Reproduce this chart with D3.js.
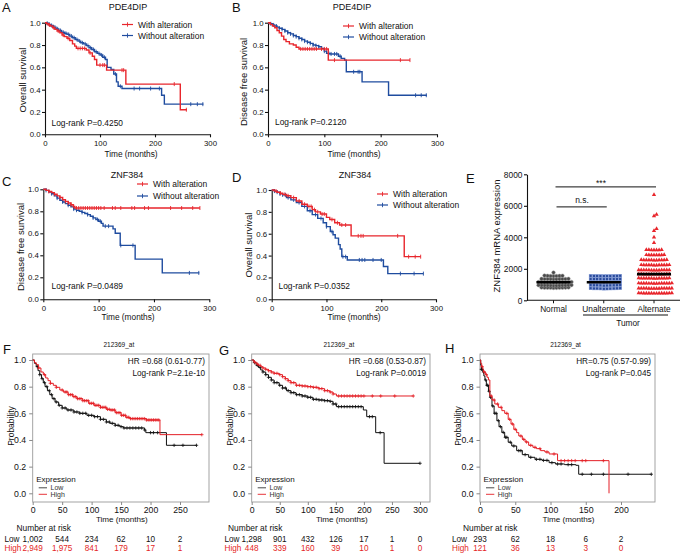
<!DOCTYPE html>
<html><head><meta charset="utf-8">
<script src="https://cdn.jsdelivr.net/npm/d3@7"></script>
<style>body{margin:0;background:#fff}svg{display:block}</style>
</head><body><script>
// ---------------- DATA ----------------
const timeTicks = [0, 100, 200, 300];
const survTicks = [0, 0.2, 0.4, 0.6, 0.8, 1.0];
const legendLabels = ["With alteration", "Without alteration"];

// Panel A: PDE4DIP overall survival  [time, survival]
const aWith = [[0,1],[3,0.99],[6,0.98],[10,0.97],[14,0.955],[18,0.94],[22,0.925],[27,0.91],[31,0.89],[35,0.875],[40,0.86],[45,0.84],[50,0.81],[54,0.79],[57,0.77],[75,0.755],[80,0.73],[86,0.70],[90,0.67],[94,0.62],[112,0.575],[147,0.45],[246,0.22],[258,0.22]];
const aWithCens = [8,16,24,33,42,60,64,68,72,82,100,105,108,140,143,235,257];
const aWithout = [[0,1],[3,0.995],[6,0.985],[10,0.975],[15,0.96],[20,0.945],[25,0.93],[30,0.915],[35,0.905],[40,0.895],[45,0.88],[50,0.865],[55,0.85],[60,0.835],[65,0.82],[70,0.81],[75,0.795],[80,0.775],[85,0.76],[90,0.74],[95,0.725],[100,0.71],[105,0.69],[110,0.67],[113,0.60],[120,0.58],[125,0.54],[130,0.47],[133,0.43],[140,0.41],[212,0.35],[217,0.27],[288,0.27]];
const aWithoutCens = [4,8,12,18,23,28,33,38,43,48,53,58,63,68,73,78,83,88,93,98,103,108,128,137,162,172,192,208,265,277,287];

// Panel B: PDE4DIP disease free survival
const bWith = [[0,1],[4,0.985],[8,0.97],[12,0.955],[16,0.93],[20,0.91],[24,0.88],[28,0.85],[32,0.83],[38,0.81],[45,0.80],[50,0.78],[55,0.765],[107,0.665],[252,0.665]];
const bWithCens = [58,62,66,70,74,78,82,86,95,100,104,118,235,252];
const bWithout = [[0,1],[4,0.99],[8,0.98],[12,0.97],[16,0.96],[20,0.95],[25,0.94],[30,0.925],[35,0.91],[40,0.90],[45,0.885],[50,0.875],[55,0.86],[60,0.85],[65,0.835],[70,0.825],[75,0.815],[80,0.80],[85,0.795],[90,0.785],[95,0.77],[100,0.745],[104,0.725],[110,0.72],[125,0.70],[130,0.68],[136,0.665],[139,0.56],[167,0.47],[214,0.35],[282,0.35]];
const bWithoutCens = [5,10,15,20,25,30,35,40,45,50,55,60,65,70,75,80,85,90,95,100,108,112,118,122,128,152,160,163,262,272,281];

// Panel C: ZNF384 disease free survival
const cWith = [[0,1],[5,0.99],[10,0.98],[15,0.97],[20,0.955],[25,0.94],[30,0.925],[35,0.905],[40,0.89],[45,0.875],[50,0.86],[54,0.845],[57,0.83],[283,0.83]];
const cWithCens = [10,20,30,40,45,50,55,60,64,68,72,76,80,84,88,92,96,100,104,110,125,130,140,160,165,183,190,230,250,270,283];
const cWithout = [[0,1],[5,0.99],[10,0.975],[15,0.96],[20,0.94],[25,0.92],[30,0.90],[35,0.885],[40,0.87],[45,0.855],[50,0.84],[55,0.82],[60,0.81],[65,0.80],[70,0.79],[75,0.78],[80,0.77],[85,0.755],[90,0.74],[95,0.725],[100,0.71],[105,0.69],[108,0.665],[126,0.64],[130,0.60],[139,0.49],[166,0.365],[215,0.24],[282,0.24]];
const cWithoutCens = [5,15,25,35,45,55,60,70,80,90,98,103,112,118,140,162,264,281];

// Panel D: ZNF384 overall survival
const dWith = [[0,1],[5,0.99],[10,0.98],[15,0.97],[20,0.96],[27,0.947],[35,0.93],[45,0.90],[55,0.87],[65,0.85],[74,0.82],[80,0.80],[89,0.78],[100,0.75],[106,0.73],[115,0.70],[124,0.68],[145,0.58],[242,0.39],[272,0.39]];
const dWithCens = [8,16,24,30,40,50,60,68,72,78,84,92,96,110,120,128,135,158,163,167,230,250,262,272];
const dWithout = [[0,1],[5,0.99],[10,0.98],[15,0.965],[20,0.955],[27,0.93],[35,0.91],[45,0.885],[55,0.85],[65,0.81],[74,0.775],[84,0.74],[94,0.70],[100,0.665],[107,0.62],[112,0.59],[116,0.56],[122,0.50],[125,0.46],[128,0.39],[138,0.36],[204,0.30],[212,0.235],[277,0.235]];
const dWithoutCens = [5,10,15,20,25,30,40,50,60,70,80,90,100,110,130,135,160,165,170,185,200,235,260,277];

// Panel E: ZNF384 mRNA expression
const eGroups = ["Normal", "Unalternate", "Alternate"];
const eTicks = [0, 2000, 4000, 6000, 8000];
const eNormal = [1560,1540,1550,1570,1545,1555,1535,1760,
  1350,1340,1360,1355,1345,1350,1365,1335,1350,1345,
  1150,1140,1160,1155,1145,1150,1165,1135,1150,1145,1150,1160,
  950,940,960,955,945,950,965,935,950,945,950,960,
  800,790,810,805,795,800,815,785,800,795];
const eUnalt = [1550,1540,1560,1555,1545,1550,1565,1535,1550,1545,
  1350,1340,1360,1355,1345,1350,1365,1335,1350,1345,
  1150,1140,1160,1155,1145,1150,1165,1135,1150,1145,
  950,940,960,955,945,950,965,935,950,945,
  750,740,760,755,745,750,765,735,750,745];
const eAlt = [6700,5450,5350,4550,4420,4000,3650,
  3210,3200,3190,3205,3195,3200,3210,
  2880,2870,2890,2880,2875,2885,2880,2870,
  2560,2550,2570,2560,2555,2565,2560,2550,2570,2560,2555,
  2240,2230,2250,2240,2235,2245,2240,2230,2250,2240,2235,2245,
  1920,1910,1930,1920,1915,1925,1920,1910,1930,1920,1915,1925,1920,
  1660,1650,1670,1660,1655,1665,1660,1650,1670,1660,1655,1665,1660,
  1400,1390,1410,1400,1395,1405,1400,1390,1410,1400,1395,1405,1400,
  1080,1070,1090,1080,1075,1085,1080,1070,1090,1080,1075,1085,1080,1075,
  760,750,770,760,755,765,760,750,770,760,755,765,760,755,
  450,440,460,450,445,455,450,440,460,450,445,455,450,445];

// Panels F-H: KM plotter, [time, probability]
const fLow = [[0,1],[3,0.975],[6,0.95],[9,0.92],[12,0.89],[15,0.86],[18,0.83],[21,0.80],[25,0.77],[29,0.74],[33,0.71],[38,0.685],[44,0.66],[50,0.64],[58,0.625],[70,0.61],[80,0.60],[92,0.585],[104,0.575],[115,0.555],[125,0.535],[131,0.525],[140,0.51],[148,0.50],[154,0.49],[190,0.475],[192,0.455],[227,0.36],[278,0.36]];
const fLowCens = [8,12,16,20,24,28,32,36,40,45,50,55,60,65,70,75,80,85,90,95,100,105,110,115,120,125,130,135,140,145,150,155,160,165,170,175,180,185,190,200,205,212,240,255,278];
const fHigh = [[0,1],[3,0.98],[6,0.965],[10,0.94],[14,0.91],[18,0.89],[22,0.865],[26,0.845],[30,0.825],[35,0.81],[40,0.795],[46,0.775],[52,0.76],[60,0.74],[68,0.725],[75,0.71],[85,0.695],[95,0.675],[104,0.66],[115,0.645],[125,0.63],[131,0.625],[140,0.605],[150,0.585],[158,0.57],[165,0.56],[193,0.55],[216,0.44],[287,0.44]];
const fHighCens = [10,20,30,40,50,55,58,61,64,67,70,73,76,79,82,85,88,91,94,97,100,103,106,109,112,115,118,121,124,127,130,133,136,139,142,145,148,151,154,157,160,163,166,169,172,175,178,181,184,187,190,193,196,199,202,205,208,211,214,287];
const fTicks = [0, 50, 100, 150, 200, 250];
const fRiskLow = ["1,002","544","234","62","10","2"];
const fRiskHigh = ["2,949","1,975","841","179","17","1"];

const gLow = [[0,1],[4,0.98],[8,0.96],[12,0.945],[16,0.925],[20,0.91],[25,0.89],[30,0.87],[35,0.85],[40,0.83],[49,0.81],[55,0.79],[62,0.77],[70,0.755],[79,0.74],[90,0.73],[100,0.72],[109,0.705],[120,0.70],[130,0.695],[139,0.69],[145,0.67],[151,0.65],[199,0.625],[205,0.575],[221,0.455],[236,0.225],[300,0.225]];
const gLowCens = [5,10,15,20,25,30,35,40,45,50,55,60,65,70,75,80,85,90,95,100,105,110,115,120,125,130,135,140,145,150,155,160,165,170,175,180,185,190,195,210,215,229,300];
const gHigh = [[0,1],[4,0.985],[8,0.97],[12,0.96],[16,0.95],[20,0.94],[25,0.93],[30,0.92],[35,0.91],[40,0.90],[49,0.89],[55,0.875],[60,0.86],[65,0.845],[70,0.83],[79,0.81],[90,0.805],[100,0.80],[109,0.795],[120,0.785],[130,0.77],[139,0.76],[145,0.745],[151,0.73],[288,0.73]];
const gHighCens = [5,10,15,20,25,30,35,40,45,50,55,60,65,70,75,80,85,90,95,100,105,110,115,120,125,130,135,140,145,155,160,165,170,175,180,185,190,195,200,215,230,255,288];
const gTicks = [0, 50, 100, 150, 200, 250, 300];
const gRiskLow = ["1,298","901","432","126","17","1","0"];
const gRiskHigh = ["448","339","160","39","10","1","0"];

const hLow = [[0,1],[1,0.96],[2,0.93],[4,0.91],[5.5,0.88],[7,0.85],[9,0.81],[12,0.765],[14,0.72],[17,0.655],[20,0.60],[24,0.545],[27,0.50],[31,0.457],[35,0.42],[40,0.383],[45,0.355],[52,0.32],[60,0.29],[69,0.27],[78,0.255],[88,0.247],[98,0.23],[107,0.22],[120,0.215],[136,0.21],[140,0.143],[243,0.143]];
const hLowCens = [2,3,5,8,10,11,13,15,18,21,23,26,29,33,36,38,43,48,55,58,64,72,80,85,90,95,102,110,115,125,130,145,158,175,210,243];
const hHigh = [[0,1],[1,0.975],[2.4,0.95],[4,0.93],[5,0.91],[8,0.89],[10,0.87],[12,0.85],[14,0.73],[17,0.70],[21,0.67],[26,0.645],[31,0.62],[35,0.60],[40,0.555],[44,0.52],[48,0.48],[52,0.455],[55,0.43],[60,0.405],[64,0.385],[69,0.36],[75,0.345],[80,0.335],[86,0.32],[92,0.31],[98,0.295],[110,0.245],[183,0]];
const hHighCens = [3,6,9,16,20,25,30,38,42,46,50,58,62,66,72,78,85,95,105,115,120,125,130,135,145,150,175];
const hTicks = [0, 50, 100, 150, 200];
const hRiskLow = ["293","62","18","6","2"];
const hRiskHigh = ["121","36","13","3","0"];

// ---------------- DRAWING ----------------
const FONT = '"Liberation Sans", Arial, Helvetica, sans-serif';
const RED = "#e8262c", BLUE = "#1f4c9f", KRED = "#e41f26", INK = "#111";
const svg = d3.select("body").append("svg").attr("width", 682).attr("height", 554)
  .style("font-family", FONT);

function txt(x, y, s, size, o = {}) {
  const t = svg.append("text").attr("x", x).attr("y", y).text(s)
    .attr("font-size", size).attr("fill", o.fill || INK).attr("font-family", FONT);
  if (o.anchor) t.attr("text-anchor", o.anchor);
  if (o.rot) t.attr("transform", `rotate(-90,${x},${y})`).attr("dy", "0.35em").attr("text-anchor", "middle");
  return t;
}
function survAt(data, t) {
  let s = data[0][1];
  for (const d of data) { if (d[0] <= t) s = d[1]; else break; }
  return s;
}
function styleAxis(a, size, col) {
  a.attr("font-family", FONT);
  a.selectAll("text").attr("font-size", size).attr("fill", INK);
  a.selectAll("path,line").attr("stroke", col);
}

function kmTop(c) {
  const x = d3.scaleLinear().domain([0, 300]).range([c.x0, c.x1]);
  const y = d3.scaleLinear().domain([0, 1]).range([c.yBot, c.yTop]);
  const ax = svg.append("g").attr("transform", `translate(0,${c.yBot})`)
    .call(d3.axisBottom(x).tickValues(timeTicks).tickSize(3).tickSizeOuter(0).tickPadding(3.5));
  const ay = svg.append("g").attr("transform", `translate(${c.x0},0)`)
    .call(d3.axisLeft(y).tickValues(survTicks).tickFormat(d3.format(".1f")).tickSize(3).tickSizeOuter(0).tickPadding(1.5));
  [ax, ay].forEach(a => { styleAxis(a, 7.8, INK); a.selectAll("path,line").attr("stroke-width", 1.1); });

  const line = d3.line().x(d => x(d[0])).y(d => y(d[1])).curve(d3.curveStepAfter);
  c.curves.forEach(cv => {
    svg.append("path").attr("d", line(cv.d)).attr("fill", "none")
      .attr("stroke", cv.color).attr("stroke-width", 1.4);
    svg.append("g").selectAll("line").data(cv.cens).join("line")
      .attr("x1", t => x(t)).attr("x2", t => x(t))
      .attr("y1", t => y(survAt(cv.d, t)) - 2).attr("y2", t => y(survAt(cv.d, t)) + 2)
      .attr("stroke", cv.color).attr("stroke-width", 0.9);
  });
  // legend
  [[RED, c.ly1, legendLabels[0]], [BLUE, c.ly2, legendLabels[1]]].forEach(([col, ly, lab]) => {
    svg.append("line").attr("x1", c.lx).attr("x2", c.lx + 11).attr("y1", ly).attr("y2", ly)
      .attr("stroke", col).attr("stroke-width", 1.2);
    svg.append("line").attr("x1", c.lx + 5.5).attr("x2", c.lx + 5.5).attr("y1", ly - 2.2).attr("y2", ly + 2.2)
      .attr("stroke", col).attr("stroke-width", 0.9);
    txt(c.lx + 16, ly + 3.2, lab, 8.5);
  });
  txt(c.letter[0], c.letter[1], c.letter[2], 13);
  txt(c.title[0], c.title[1], c.title[2], 9, { anchor: "middle" });
  txt(c.ylab[0], c.ylab[1], c.ylab[2], 9.5, { rot: true });
  txt(c.tlab[0], c.tlab[1], "Time (months)", 8.3, { anchor: "middle" });
  txt(c.lr[0], c.lr[1], c.lr[2], 8.4);
}

kmTop({ x0: 45, x1: 210, yTop: 22.7, yBot: 134.3, lx: 122, ly1: 24.5, ly2: 35.5,
  letter: [2, 12, "A"], title: [128, 10, "PDE4DIP"], ylab: [22.5, 80, "Overall survival"],
  tlab: [131, 157], lr: [51.5, 125.5, "Log-rank P=0.4250"],
  curves: [{ d: aWithout, cens: aWithoutCens, color: BLUE }, { d: aWith, cens: aWithCens, color: RED }] });
kmTop({ x0: 268, x1: 437, yTop: 22.7, yBot: 134.3, lx: 343, ly1: 26, ly2: 37,
  letter: [232, 12, "B"], title: [352, 10, "PDE4DIP"], ylab: [243.5, 82, "Disease free survival"],
  tlab: [354, 157], lr: [275, 125, "Log-rank P=0.2120"],
  curves: [{ d: bWithout, cens: bWithoutCens, color: BLUE }, { d: bWith, cens: bWithCens, color: RED }] });
kmTop({ x0: 43.3, x1: 209.3, yTop: 189.3, yBot: 299.3, lx: 137, ly1: 184, ly2: 196,
  letter: [2, 186, "C"], title: [127, 177.5, "ZNF384"], ylab: [20.5, 247, "Disease free survival"],
  tlab: [128, 320], lr: [51.5, 289, "Log-rank P=0.0489"],
  curves: [{ d: cWithout, cens: cWithoutCens, color: BLUE }, { d: cWith, cens: cWithCens, color: RED }] });
kmTop({ x0: 271.7, x1: 436, yTop: 190, yBot: 299.3, lx: 377, ly1: 194, ly2: 205,
  letter: [232, 182, "D"], title: [355, 177.5, "ZNF384"], ylab: [249, 245, "Overall survival"],
  tlab: [354, 320], lr: [278.5, 289, "Log-rank P=0.0352"],
  curves: [{ d: dWithout, cens: dWithoutCens, color: BLUE }, { d: dWith, cens: dWithCens, color: RED }] });

// ---------- Panel E ----------
(function () {
  const yE = d3.scaleLinear().domain([0, 8000]).range([300.3, 174.3]);
  const xE = d3.scalePoint().domain(eGroups).range([553.5, 654]);
  const ay = svg.append("g").attr("transform", "translate(527,0)")
    .call(d3.axisLeft(yE).tickValues(eTicks).tickFormat(d3.format("d")).tickSize(3).tickSizeOuter(0).tickPadding(1.5));
  styleAxis(ay, 8.4, INK); ay.selectAll("path,line").attr("stroke-width", 1.1);
  svg.append("line").attr("x1", 527).attr("x2", 680).attr("y1", yE(0)).attr("y2", yE(0))
    .attr("stroke", INK).attr("stroke-width", 1.1);
  eGroups.forEach(gn => {
    svg.append("line").attr("x1", xE(gn)).attr("x2", xE(gn)).attr("y1", yE(0)).attr("y2", yE(0) + 3)
      .attr("stroke", INK).attr("stroke-width", 1);
    txt(xE(gn), 312, gn, 8.3, { anchor: "middle" });
  });
  svg.append("line").attr("x1", 583).attr("x2", 668).attr("y1", 315).attr("y2", 315)
    .attr("stroke", INK).attr("stroke-width", 1.1);
  txt(628, 326, "Tumor", 8.3, { anchor: "middle" });
  txt(466, 183, "E", 13);
  txt(497, 236, "ZNF384 mRNA expression", 9.5, { rot: true });

  function swarm(vals, cx, dx, dyTol) {
    const pts = vals.map(v => ({ v, y: yE(v) })).sort((a, b) => a.v - b.v);
    const placed = [];
    pts.forEach(p => {
      for (let k = 0; k < 60; k++) {
        const off = (k % 2 === 1 ? 1 : -1) * Math.ceil(k / 2) * dx;
        const xx = cx + off;
        if (!placed.some(q => Math.abs(q.x - xx) < dx * 0.99 && Math.abs(q.y - p.y) < dyTol)) {
          p.x = xx; placed.push(p); break;
        }
      }
    });
    return placed;
  }
  const nPts = swarm(eNormal, xE("Normal"), 3.0, 2.2);
  svg.append("g").selectAll("circle").data(nPts).join("circle")
    .attr("cx", d => d.x).attr("cy", d => d.y).attr("r", 1.8)
    .attr("fill", "#4a4a4a").attr("stroke", "#9a9a9a").attr("stroke-width", 0.5);
  const uPts = swarm(eUnalt, xE("Unalternate"), 3.3, 2.2);
  svg.append("g").selectAll("rect").data(uPts).join("rect")
    .attr("x", d => d.x - 1.4).attr("y", d => d.y - 1.4).attr("width", 2.8).attr("height", 2.8)
    .attr("fill", "#2a4b9c").attr("stroke", "#7f98d6").attr("stroke-width", 0.5);
  const aPts = swarm(eAlt, xE("Alternate"), 2.55, 2.5);
  const tri = d3.symbol().type(d3.symbolTriangle).size(8);
  svg.append("g").selectAll("path").data(aPts).join("path")
    .attr("d", tri).attr("transform", d => `translate(${d.x},${d.y})`)
    .attr("fill", "#e8262c");
  [[eNormal, "Normal"], [eUnalt, "Unalternate"], [eAlt, "Alternate"]].forEach(([v, gn]) => {
    const m = d3.median(v);
    svg.append("line").attr("x1", xE(gn) - 17).attr("x2", xE(gn) + 17)
      .attr("y1", yE(m)).attr("y2", yE(m)).attr("stroke", "#000").attr("stroke-width", 2.6);
  });
  // significance
  svg.append("line").attr("x1", xE("Normal") + 2).attr("x2", xE("Alternate") + 2)
    .attr("y1", yE(7200)).attr("y2", yE(7200)).attr("stroke", INK).attr("stroke-width", 1);
  txt(601, 185.5, "***", 8.5, { anchor: "middle" });
  svg.append("line").attr("x1", xE("Normal") + 3).attr("x2", xE("Unalternate") + 3)
    .attr("y1", yE(5930)).attr("y2", yE(5930)).attr("stroke", INK).attr("stroke-width", 1);
  txt(582, 203, "n.s.", 8.5, { anchor: "middle" });
})();

// ---------- Panels F-H ----------
function kmBottom(c) {
  const x = d3.scaleLinear().domain([0, c.tRef]).range([c.l, c.xRef]);
  const y = d3.scaleLinear().domain([0, 1]).range([493.3, 360]);
  const T = 354, B = 502;
  svg.append("rect").attr("x", c.l).attr("y", T).attr("width", c.r - c.l).attr("height", B - T)
    .attr("fill", "none").attr("stroke", "#9a9a9a").attr("stroke-width", 0.9);
  const ay = svg.append("g").attr("transform", `translate(${c.l},0)`)
    .call(d3.axisLeft(y).tickValues(survTicks).tickFormat(d3.format(".1f")).tickSize(3.5).tickPadding(3));
  ay.select(".domain").remove();
  styleAxis(ay, 8.7, "#888");
  const ax = svg.append("g").attr("transform", `translate(0,${B})`)
    .call(d3.axisBottom(x).tickValues(c.ticks).tickSize(3).tickPadding(2));
  ax.select(".domain").remove();
  styleAxis(ax, 8.7, "#888");

  const line = d3.line().x(d => x(d[0])).y(d => y(d[1])).curve(d3.curveStepAfter);
  c.curves.forEach(cv => {
    svg.append("path").attr("d", line(cv.d)).attr("fill", "none")
      .attr("stroke", cv.color).attr("stroke-width", 1);
    const g = svg.append("g").attr("stroke", cv.color).attr("stroke-width", 0.8);
    cv.cens.forEach(t => {
      const px = x(t), py = y(survAt(cv.d, t));
      g.append("line").attr("x1", px - 1.7).attr("x2", px + 1.7).attr("y1", py).attr("y2", py);
      g.append("line").attr("x1", px).attr("x2", px).attr("y1", py - 1.7).attr("y2", py + 1.7);
    });
  });
  txt(c.letter[0], c.letter[1], c.letter[2], 13);
  txt((c.l + c.r) / 2 - 2, 346.5, "212369_at", 6.5, { anchor: "middle" });
  txt(c.r - 4, 364, c.hr, 8.2, { anchor: "end" });
  txt(c.r - 4, 376, c.lr, 8.2, { anchor: "end" });
  txt(c.l - 22, 426, "Probability", 8.5, { rot: true });
  txt((c.l + c.r) / 2 + 1, 522, "Time (months)", 8.1, { anchor: "middle" });
  // legend
  txt(c.l + 3.5, 481.5, "Expression", 8);
  [["#333", 487.8, "Low"], [KRED, 494.3, "High"]].forEach(([col, ly, lab]) => {
    svg.append("line").attr("x1", c.l + 6).attr("x2", c.l + 14.3).attr("y1", ly).attr("y2", ly)
      .attr("stroke", col).attr("stroke-width", 0.9);
    txt(c.l + 17.8, ly + 2.5, lab, 7, { fill: "#333" });
  });
  // risk table
  txt(c.nx, 531, "Number at risk", 8.4);
  txt(c.rx, 541.5, "Low", 8.2);
  txt(c.rx, 550.5, "High", 8.2, { fill: KRED });
  c.ticks.forEach((t, i) => {
    txt(x(t), 541.5, c.low[i], 8.2, { anchor: "middle" });
    txt(x(t), 550.5, c.high[i], 8.2, { anchor: "middle", fill: KRED });
  });
}

kmBottom({ l: 32.7, r: 209, tRef: 250, xRef: 180, ticks: fTicks, letter: [3, 354, "F"],
  hr: "HR =0.68 (0.61-0.77)", lr: "Log-rank P=2.1e-10", nx: 16.5, rx: 4.5,
  low: fRiskLow, high: fRiskHigh,
  curves: [{ d: fLow, cens: fLowCens, color: "#111" }, { d: fHigh, cens: fHighCens, color: KRED }] });
kmBottom({ l: 251.7, r: 430, tRef: 300, xRef: 420, ticks: gTicks, letter: [219, 355, "G"],
  hr: "HR =0.68 (0.53-0.87)", lr: "Log-rank P=0.0019", nx: 228, rx: 224.5,
  low: gRiskLow, high: gRiskHigh,
  curves: [{ d: gLow, cens: gLowCens, color: "#111" }, { d: gHigh, cens: gHighCens, color: KRED }] });
kmBottom({ l: 480, r: 655, tRef: 200, xRef: 621, ticks: hTicks, letter: [445, 353, "H"],
  hr: "HR=0.75 (0.57-0.99)", lr: "Log-rank P=0.045", nx: 463, rx: 452,
  low: hRiskLow, high: hRiskHigh,
  curves: [{ d: hLow, cens: hLowCens, color: "#111" }, { d: hHigh, cens: hHighCens, color: KRED }] });
</script></body></html>
